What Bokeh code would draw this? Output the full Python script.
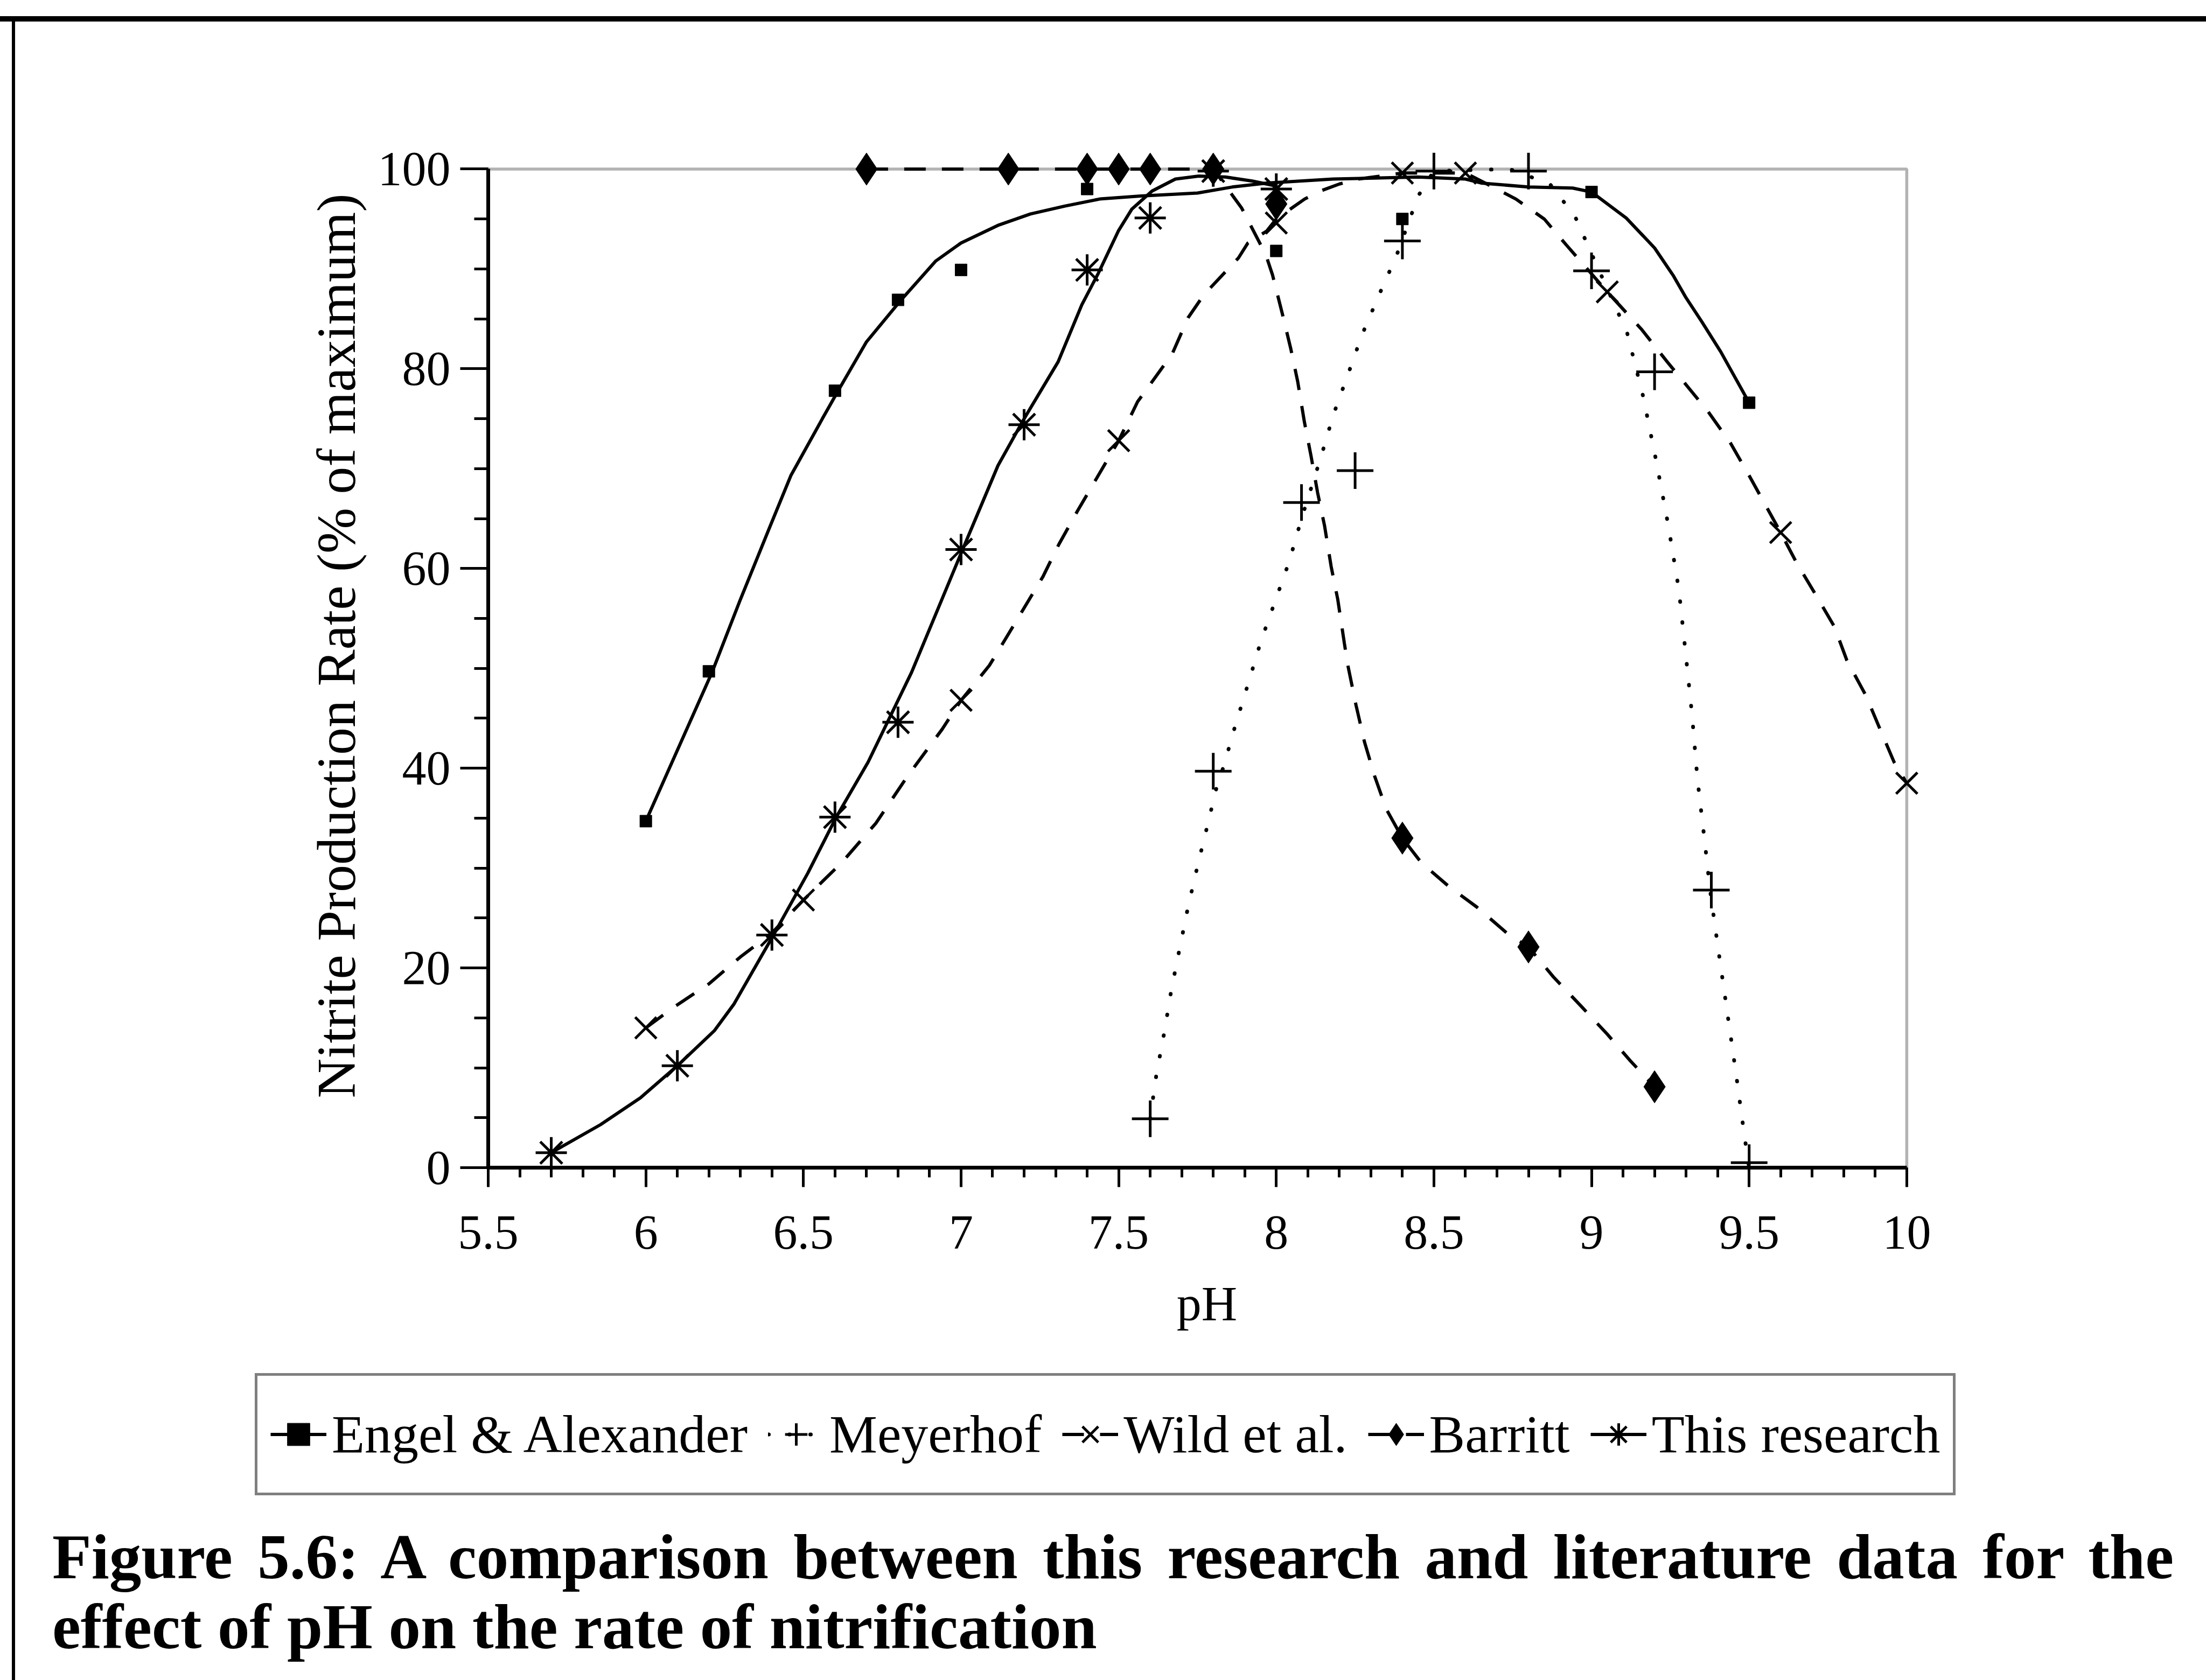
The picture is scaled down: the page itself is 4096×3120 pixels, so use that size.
from bokeh.plotting import figure
from bokeh.layouts import column
from bokeh.models import Range1d, FixedTicker, Legend, LegendItem, BoxAnnotation, Div
from bokeh.embed import file_html
from bokeh.resources import INLINE

# ---------------- data ----------------
x_ticks = [5.5, 6.0, 6.5, 7.0, 7.5, 8.0, 8.5, 9.0, 9.5, 10.0]
x_tick_labels = ["5.5", "6", "6.5", "7", "7.5", "8", "8.5", "9", "9.5", "10"]
y_ticks = [0, 20, 40, 60, 80, 100]
y_tick_labels = ["0", "20", "40", "60", "80", "100"]

series_names = ["Engel & Alexander", "Meyerhof", "Wild et al.", "Barritt", "This research"]

engel_ph = [6.0, 6.2, 6.6, 6.8, 7.0, 7.4, 8.0, 8.4, 9.0, 9.5]
engel_rate = [34.7, 49.7, 77.8, 86.9, 89.9, 98.0, 91.8, 95.0, 97.7, 76.6]
engel_curve_ph = [6.0, 6.21, 6.30, 6.39, 6.46, 6.56, 6.61, 6.70, 6.81, 6.92, 7.0, 7.12, 7.22,
                  7.33, 7.44, 7.57, 7.75, 7.86, 7.97, 8.18, 8.45, 8.60, 8.65, 8.80, 8.94, 9.0,
                  9.11, 9.20, 9.26, 9.30, 9.35, 9.41, 9.5]
engel_curve_rate = [34.7, 49.6, 56.9, 63.9, 69.3, 75.0, 77.8, 82.7, 86.9, 90.8, 92.6, 94.4, 95.5,
                    96.3, 97.0, 97.3, 97.6, 98.2, 98.6, 99.0, 99.2, 99.0, 98.6, 98.2, 98.1, 97.7,
                    95.1, 92.1, 89.3, 87.1, 84.7, 81.7, 76.6]

meyerhof_ph = [7.6, 7.8, 8.08, 8.25, 8.4, 8.5, 8.8, 9.0, 9.2, 9.38, 9.5]
meyerhof_rate = [4.9, 39.7, 66.6, 69.8, 92.8, 99.8, 99.8, 89.8, 79.7, 27.8, 0.5]
meyerhof_curve_ph = [7.6, 7.61, 7.62, 7.645, 7.667, 7.693, 7.72, 7.75, 7.781, 7.81, 7.834, 7.871,
                     7.912, 7.951, 7.996, 8.041, 8.08, 8.142, 8.18, 8.227, 8.272, 8.326, 8.381,
                     8.45, 8.5, 8.74, 8.868, 8.947, 9.006, 9.113, 9.164, 9.205, 9.243, 9.277,
                     9.298, 9.319, 9.336, 9.359, 9.376, 9.401, 9.429, 9.458, 9.485, 9.5]
meyerhof_curve_rate = [4.9, 7.2, 9.4, 13.6, 17.8, 21.9, 26.1, 30.2, 34.2, 38.0, 40.3, 44.4,
                       48.6, 52.7, 56.7, 60.7, 65.0, 71.2, 75.3, 79.4, 83.4, 87.4, 91.3,
                       97.3, 99.8, 100.0, 98.5, 95.3, 91.1, 83.6, 77.2, 70.8, 64.4, 57.9,
                       51.7, 45.3, 38.9, 32.7, 27.8, 22.1, 15.9, 9.5, 3.2, 0.0]

wild_ph = [6.0, 6.5, 7.0, 7.5, 8.0, 8.4, 8.6, 9.05, 9.6, 10.0]
wild_rate = [14.0, 26.8, 46.8, 72.8, 94.6, 99.6, 99.6, 87.7, 63.6, 38.5]
wild_curve_ph = [6.0, 6.09, 6.2, 6.3, 6.4, 6.5, 6.62, 6.73, 6.83, 6.94, 7.0, 7.09, 7.14, 7.26,
                 7.31, 7.37, 7.5, 7.56, 7.67, 7.72, 7.77, 7.88, 7.91, 7.97, 8.0, 8.09, 8.14,
                 8.2, 8.26, 8.4, 8.6, 8.65, 8.76, 8.85, 8.92, 9.05, 9.16, 9.24, 9.3, 9.37,
                 9.44, 9.5, 9.6, 9.65, 9.72, 9.77, 9.81, 9.87, 9.91, 9.96, 10.0]
wild_curve_rate = [14.0, 16.1, 18.4, 21.1, 23.5, 26.8, 30.5, 34.5, 39.2, 43.9, 46.8, 50.3, 52.9,
                   59.2, 62.4, 65.8, 72.8, 76.7, 81.5, 85.1, 87.4, 91.1, 92.6, 93.8, 95.0, 97.0,
                   97.8, 98.5, 99.0, 99.6, 99.6, 98.8, 97.0, 95.0, 92.4, 87.7, 83.9, 80.7, 78.4,
                   75.7, 72.6, 69.3, 63.6, 60.6, 56.9, 54.2, 50.8, 47.3, 44.3, 40.6, 38.5]

barritt_ph = [6.7, 7.15, 7.4, 7.5, 7.6, 7.8, 8.0, 8.4, 8.8, 9.2]
barritt_rate = [100, 100, 100, 100, 100, 100, 96.5, 33.0, 22.1, 8.1]
barritt_curve_ph = [6.7, 7.8, 7.89, 7.967, 7.988, 8.02, 8.046, 8.068, 8.089, 8.11, 8.131, 8.153,
                    8.174, 8.195, 8.216, 8.227, 8.253, 8.28, 8.312, 8.349, 8.4, 8.461, 8.546,
                    8.636, 8.731, 8.8, 8.879, 8.969, 9.049, 9.123, 9.2]
barritt_curve_rate = [100, 100, 96.1, 91.4, 89.4, 85.4, 82.0, 78.7, 74.7, 71.3, 67.6, 64.3,
                      60.2, 56.9, 52.5, 50.3, 46.3, 42.6, 39.2, 35.9, 33.0, 30.5, 28.2,
                      26.1, 23.5, 22.1, 19.1, 16.1, 13.4, 10.7, 8.1]

research_ph = [5.7, 6.1, 6.4, 6.6, 6.8, 7.0, 7.2, 7.4, 7.6, 7.8, 8.0]
research_rate = [1.5, 10.2, 23.3, 35.1, 44.6, 61.9, 74.4, 89.9, 95.1, 99.8, 98.0]
research_curve_ph = [5.7, 5.856, 5.983, 6.1, 6.217, 6.28, 6.405, 6.514, 6.604, 6.705, 6.843,
                     7.005, 7.117, 7.2, 7.308, 7.383, 7.436, 7.499, 7.542, 7.606, 7.68, 7.754,
                     7.839, 7.924, 8.0]
research_curve_rate = [1.5, 4.3, 7.0, 10.2, 13.7, 16.4, 23.3, 29.5, 35.1, 40.6, 49.6,
                       61.9, 70.3, 75.0, 80.7, 86.4, 89.6, 93.8, 96.0, 97.8, 99.0, 99.3,
                       99.2, 98.8, 98.3]

x_title = "pH"
y_title = "Nitrite Production Rate (% of maximum)"
caption_1 = "Figure 5.6: A comparison between this research and literature data for the"
caption_2 = "effect of pH on the rate of nitrification"

# ---------------- layout ----------------
W, H = 4096, 3120
H1 = 2540                 # chart
H2 = 260                  # legend strip
H3 = H - H1 - H2          # caption strip
FL, FB = 906, 2168        # frame left / bottom of the main plot
X0, X1, Y0, Y1 = 5.5, 10.0, 0.0, 100.0
XPAD, YPAD = 0.06, 4.5    # a little room so markers on the box edges are not cut
PX_X = (3540 - FL) / (X1 - X0)
PX_Y = (FB - 313) / (Y1 - Y0)
FR = FL + (X1 + XPAD - X0) * PX_X
FT = FB - (Y1 + YPAD - Y0) * PX_Y
SERIF = "Liberation Serif"
FRAME_TOP = "linear-gradient(#000,#000) 0px 30px / 100% 10px no-repeat, "
FRAME_LEFT = "linear-gradient(#000,#000) 22px {top}px / 6px 100% no-repeat, #fff"

p = figure(width=W, height=H1, output_backend="svg", toolbar_location=None,
           x_range=Range1d(X0, X1 + XPAD), y_range=Range1d(Y0, Y1 + YPAD),
           min_border_left=FL, min_border_right=int(round(W - FR)),
           min_border_top=int(round(FT)), min_border_bottom=H1 - FB,
           styles={"background": FRAME_TOP + FRAME_LEFT.format(top=30)})
p.frame_align = False
p.background_fill_color = "white"
p.border_fill_alpha = 0
p.outline_line_color = None
p.xgrid.visible = False
p.ygrid.visible = False

xa = p.xaxis[0]
ya = p.yaxis[0]
xa.ticker = FixedTicker(ticks=x_ticks, minor_ticks=[round(5.5 + 0.1 * i, 2) for i in range(46)])
ya.ticker = FixedTicker(ticks=y_ticks, minor_ticks=list(range(0, 101, 5)))
xa.major_label_overrides = {float(t): s for t, s in zip(x_ticks, x_tick_labels)}
ya.major_label_overrides = {float(t): s for t, s in zip(y_ticks, y_tick_labels)}
xa.bounds = (X0, X1)
ya.bounds = (Y0, Y1)
for ax in (xa, ya):
    ax.axis_line_width = 7
    ax.axis_line_color = "black"
    ax.major_tick_line_width = 5
    ax.minor_tick_line_width = 5
    ax.major_tick_in = 0
    ax.minor_tick_in = 0
    ax.major_label_text_font = SERIF
    ax.major_label_text_font_size = "90px"
    ax.major_label_text_color = "black"
    ax.axis_label_text_font = SERIF
    ax.axis_label_text_font_style = "normal"
    ax.axis_label_text_color = "black"
xa.major_tick_out = 36
xa.minor_tick_out = 18
xa.major_label_standoff = 54
xa.axis_label = x_title
xa.axis_label_text_font_size = "92px"
xa.axis_label_standoff = 48
ya.major_tick_out = 52
ya.minor_tick_out = 26
ya.major_label_standoff = 18
ya.axis_label = y_title
ya.axis_label_text_font_size = "102px"
ya.axis_label_standoff = 18

# plot-area box (top and right edges of the chart)
p.add_layout(BoxAnnotation(left=X0, right=X1, bottom=Y0, top=Y1, fill_alpha=0,
                           line_color="black", line_width=5.5))

LW = 6
STYLES = [
    (dict(line_color="black", line_width=LW),
     dict(marker="square", size=22, color="black")),
    (dict(line_color="black", line_width=7, line_dash="1 38", line_cap="round"),
     dict(marker="cross", size=68, line_color="black", line_width=5)),
    (dict(line_color="black", line_width=LW, line_dash="40 30"),
     dict(marker="x", size=56, line_color="black", line_width=5)),
    (dict(line_color="black", line_width=LW, line_dash="40 30"),
     dict(marker="diamond", size=60, color="black")),
    (dict(line_color="black", line_width=LW),
     dict(marker="asterisk", size=58, line_color="black", line_width=5)),
]
curves = [(engel_curve_ph, engel_curve_rate), (meyerhof_curve_ph, meyerhof_curve_rate),
          (wild_curve_ph, wild_curve_rate), (barritt_curve_ph, barritt_curve_rate),
          (research_curve_ph, research_curve_rate)]
points = [(engel_ph, engel_rate), (meyerhof_ph, meyerhof_rate), (wild_ph, wild_rate),
          (barritt_ph, barritt_rate), (research_ph, research_rate)]
for (cx, cy), (ls, ms) in zip(curves, STYLES):
    p.line(cx, cy, **ls)
for (px, py), (ls, ms) in zip(points, STYLES):
    p.scatter(px, py, **ms)

# ---------------- legend strip ----------------
# The legend keys re-use each series with the same styles; this strip's ranges keep the
# series themselves out of view so that only the legend is drawn here.
p2 = figure(width=W, height=H2, output_backend="svg", toolbar_location=None, title=None,
            x_range=Range1d(0, 1), y_range=Range1d(0, 1),
            x_axis_type=None, y_axis_type=None, min_border=0,
            styles={"background": FRAME_LEFT.format(top=0)})
p2.frame_align = False
p2.background_fill_alpha = 0
p2.border_fill_alpha = 0
p2.outline_line_color = None
p2.xgrid.visible = False
p2.ygrid.visible = False

items = []
for name, (cx, cy), (px, py), (ls, ms) in zip(series_names, curves, points, STYLES):
    k_line = p2.line(cx, cy, **ls)
    k_mark = p2.scatter(px, py, **ms)
    items.append(LegendItem(label=name, renderers=[k_line, k_mark]))
legend = Legend(items=items, orientation="horizontal", location=(473, H2 - (2777 - H1)),
                label_text_font=SERIF, label_text_font_size="100px", label_text_color="black",
                glyph_width=104, glyph_height=169, label_standoff=10, spacing=38,
                padding=24, margin=0, border_line_color="black", border_line_width=5,
                background_fill_color="white", background_fill_alpha=1.0)
p2.add_layout(legend)

# ---------------- caption ----------------
base = ("font-family:'Liberation Serif',serif;font-weight:bold;font-size:119px;"
        "line-height:130px;color:#000;margin:0;padding:0;")
top_pad = 2931 - (H1 + H2) - 105
cap_html = (f'<div style="padding:{top_pad}px 60px 0 97px;width:{W}px;box-sizing:border-box;">'
            f'<div style="{base}text-align:justify;text-align-last:justify;">{caption_1}</div>'
            f'<div style="{base}text-align:left;">{caption_2}</div></div>')
cap = Div(text=cap_html, width=W, height=H3,
          styles={"background": FRAME_LEFT.format(top=0), "margin": "0", "padding": "0"})

root = column(p, p2, cap, spacing=0)
open("out.html", "w").write(file_html(root, INLINE))
